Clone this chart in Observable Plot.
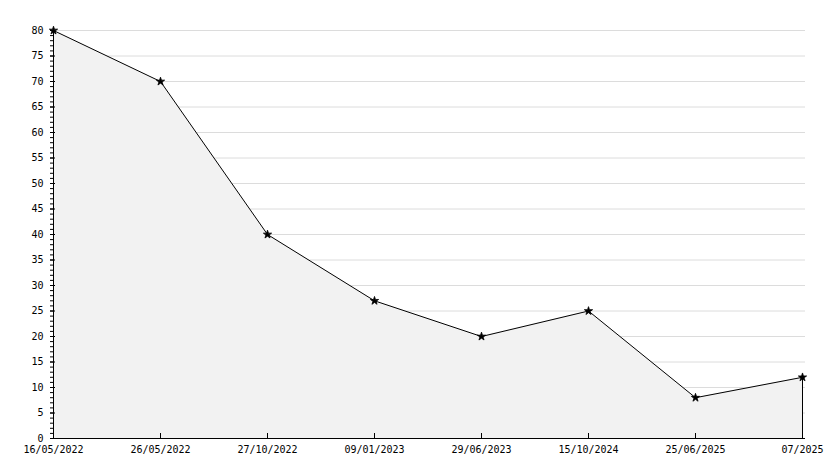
<!DOCTYPE html>
<html>
<head>
<meta charset="utf-8">
<script src="https://cdn.jsdelivr.net/npm/d3@7"></script>
<script src="https://cdn.jsdelivr.net/npm/@observablehq/plot@0.6"></script>
<style>
  html, body { margin: 0; padding: 0; background: #fff; }
  #chart svg { display: block; }
</style>
</head>
<body>
<div id="chart"></div>
<script>
const dates = ["16/05/2022", "26/05/2022", "27/10/2022", "09/01/2023", "29/06/2023", "15/10/2024", "25/06/2025", "07/2025"];
const values = [80, 70, 40, 27, 20, 25, 8, 12];
const yMajorTicks = d3.range(0, 81, 5);
const yMinorTicks = d3.range(0, 81, 1);

const data = dates.map((d, i) => ({date: d, value: values[i]}));
const last = data.slice(-1);

const font = "DejaVu Sans Mono";

const chart = Plot.plot({
  width: 834,
  height: 468,
  marginLeft: 50,
  marginRight: 29,
  marginTop: 30,
  marginBottom: 30,
  style: {fontFamily: font, fontSize: "10px", color: "#000", background: "#fff"},
  x: {type: "point", domain: dates, padding: 0, inset: 0, label: null},
  y: {domain: [0, 80], label: null},
  marks: [
    Plot.gridY(yMajorTicks, {stroke: "#dcdcdc", strokeOpacity: 1}),
    Plot.areaY(data, {x: "date", y: "value", fill: "#f2f2f2"}),
    Plot.lineY(data, {x: "date", y: "value", stroke: "#000", strokeWidth: 1}),
    Plot.ruleX(last, {x: "date", y1: 0, y2: "value", stroke: "#000"}),
    Plot.ruleX([dates[0]], {stroke: "#000"}),
    Plot.ruleY([0], {stroke: "#000"}),
    Plot.axisY(yMinorTicks, {anchor: "left", tickSize: -3, text: null, label: null, stroke: "#000", strokeOpacity: 1}),
    Plot.axisY(yMajorTicks, {anchor: "left", tickSize: -5, text: null, label: null, stroke: "#000", strokeOpacity: 1}),
    Plot.axisY(yMajorTicks, {anchor: "left", tickSize: 0, tickPadding: 7, label: null, fill: "#000", fontSize: 10, fontFamily: font}),
    Plot.axisX(dates, {anchor: "bottom", tickSize: -5, text: null, label: null, stroke: "#000", strokeOpacity: 1}),
    Plot.axisX(dates, {anchor: "bottom", tickSize: 0, tickPadding: 7, label: null, fill: "#000", fontSize: 10, fontFamily: font}),
    Plot.dot(data, {x: "date", y: "value", symbol: "star", r: 2.6, fill: "#000", stroke: "#000", strokeWidth: 0.8})
  ]
});
document.getElementById("chart").appendChild(chart);
</script>
</body>
</html>
